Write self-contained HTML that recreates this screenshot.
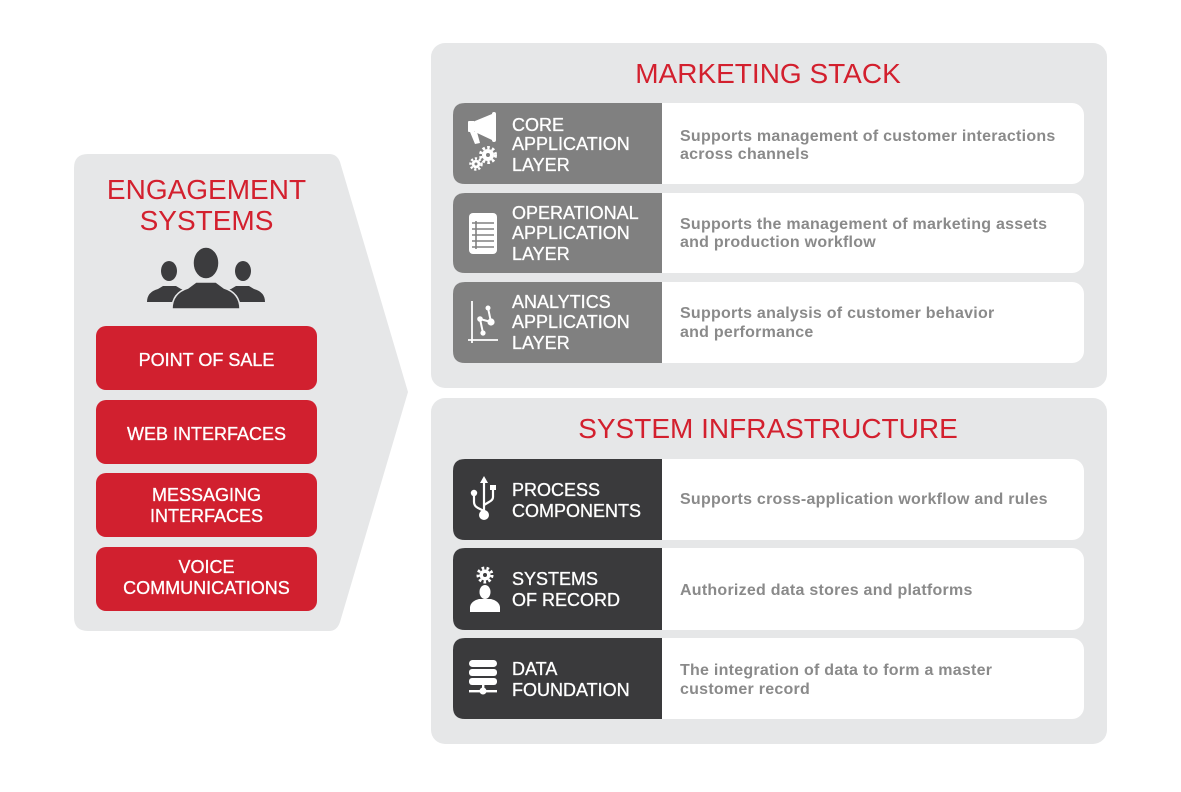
<!DOCTYPE html>
<html>
<head>
<meta charset="utf-8">
<style>
html,body{margin:0;padding:0;background:#ffffff;}
body{width:1181px;height:792px;overflow:hidden;}
svg{display:block;}
</style>
</head>
<body>
<svg width="1181" height="792" viewBox="0 0 1181 792" xmlns="http://www.w3.org/2000/svg" font-family="'Liberation Sans', Arial, sans-serif">
  <rect x="0" y="0" width="1181" height="792" fill="#ffffff"/>

  <!-- LEFT ENGAGEMENT PANEL -->
  <path d="M74,168 Q74,154 88,154 L329,154 Q337,154 340,162 L408,392 L340,622 Q337,631 329,631 L88,631 Q74,631 74,617 Z" fill="#e6e7e8"/>
  <text x="206.5" y="199" font-size="28" fill="#d3202e" text-anchor="middle">ENGAGEMENT</text>
  <text x="206.5" y="230" font-size="28" fill="#d3202e" text-anchor="middle">SYSTEMS</text>

  <!-- people icon -->
  <g fill="#3c3c3e">
    <ellipse cx="169" cy="271" rx="8" ry="10"/>
    <path d="M147,302 Q147,292 158,289 L163,286 L176,286 L181,289 Q192,292 193,302 Z"/>
    <ellipse cx="243" cy="271" rx="8" ry="10"/>
    <path d="M219,302 Q220,292 231,289 L236,286 L249,286 L254,289 Q265,292 265,302 Z"/>
  </g>
  <g fill="#3c3c3e" stroke="#e6e7e8" stroke-width="1.5">
    <path d="M172,309 Q172,293 188,288 L196,282 L216,282 L224,288 Q240,293 240,309 Z"/>
    <ellipse cx="206" cy="263" rx="13" ry="16"/>
  </g>

  <!-- red buttons -->
  <g fill="#d1202f">
    <rect x="96" y="326" width="221" height="64" rx="10"/>
    <rect x="96" y="400" width="221" height="64" rx="10"/>
    <rect x="96" y="473" width="221" height="64" rx="10"/>
    <rect x="96" y="547" width="221" height="64" rx="10"/>
  </g>
  <g fill="#ffffff" font-size="18" text-anchor="middle" stroke="#ffffff" stroke-width="0.3">
    <text x="206.5" y="366">POINT OF SALE</text>
    <text x="206.5" y="440">WEB INTERFACES</text>
    <text x="206.5" y="501">MESSAGING</text>
    <text x="206.5" y="522">INTERFACES</text>
    <text x="206.5" y="573">VOICE</text>
    <text x="206.5" y="594">COMMUNICATIONS</text>
  </g>

  <!-- MARKETING STACK PANEL -->
  <rect x="431" y="43" width="676" height="345" rx="14" fill="#e6e7e8"/>
  <text x="768" y="83" font-size="28" fill="#d3202e" text-anchor="middle">MARKETING STACK</text>

  <!-- rows -->
  <g>
    <rect x="453" y="103" width="631" height="81" rx="12" fill="#ffffff"/>
    <path d="M465,103 L662,103 L662,184 L465,184 Q453,184 453,172 L453,115 Q453,103 465,103 Z" fill="#808080"/>
    <rect x="453" y="193" width="631" height="80" rx="12" fill="#ffffff"/>
    <path d="M465,193 L662,193 L662,273 L465,273 Q453,273 453,261 L453,205 Q453,193 465,193 Z" fill="#808080"/>
    <rect x="453" y="282" width="631" height="81" rx="12" fill="#ffffff"/>
    <path d="M465,282 L662,282 L662,363 L465,363 Q453,363 453,351 L453,294 Q453,282 465,282 Z" fill="#808080"/>
  </g>

  <g fill="#ffffff" font-size="18" stroke="#ffffff" stroke-width="0.3">
    <text x="512" y="131">CORE</text>
    <text x="512" y="150">APPLICATION</text>
    <text x="512" y="171">LAYER</text>
    <text x="512" y="219">OPERATIONAL</text>
    <text x="512" y="239">APPLICATION</text>
    <text x="512" y="260">LAYER</text>
    <text x="512" y="308">ANALYTICS</text>
    <text x="512" y="328">APPLICATION</text>
    <text x="512" y="349">LAYER</text>
  </g>

  <g fill="#8a8a8a" font-size="16" font-weight="bold" letter-spacing="0.25">
    <text x="680" y="141">Supports management of customer interactions</text>
    <text x="680" y="159">across channels</text>
    <text x="680" y="229">Supports the management of marketing assets</text>
    <text x="680" y="247">and production workflow</text>
    <text x="680" y="318">Supports analysis of customer behavior</text>
    <text x="680" y="337">and performance</text>
  </g>

  <!-- megaphone icon -->
  <g fill="#ffffff">
    <rect x="468" y="121" width="7" height="11" rx="1"/>
    <polygon points="475,121 492,114 492,140 475,132"/>
    <rect x="492" y="112" width="4" height="30" rx="2"/>
    <polygon points="470,132 477,132 480,143 475,144"/>
  </g>
  <!-- gears -->
  <g>
    <circle cx="488" cy="155" r="7.5" fill="none" stroke="#ffffff" stroke-width="3" stroke-dasharray="2.6 2.3"/>
    <circle cx="488" cy="155" r="6" fill="#ffffff"/>
    <circle cx="488" cy="155" r="2" fill="#808080"/>
    <circle cx="476" cy="164" r="5.5" fill="none" stroke="#ffffff" stroke-width="2.5" stroke-dasharray="2.2 1.9"/>
    <circle cx="476" cy="164" r="4.3" fill="#ffffff"/>
    <circle cx="476" cy="164" r="1.5" fill="#808080"/>
  </g>

  <!-- document/table icon -->
  <g>
    <rect x="469" y="213" width="28" height="41" rx="4" fill="#ffffff"/>
    <g stroke="#808080" stroke-width="1.6">
      <line x1="472" y1="223" x2="494" y2="223"/>
      <line x1="472" y1="229" x2="494" y2="229"/>
      <line x1="472" y1="235" x2="494" y2="235"/>
      <line x1="472" y1="241" x2="494" y2="241"/>
      <line x1="472" y1="247" x2="494" y2="247"/>
      <line x1="476" y1="221" x2="476" y2="249"/>
    </g>
  </g>

  <!-- analytics icon -->
  <g stroke="#ffffff" stroke-width="1.8" fill="#ffffff">
    <line x1="472" y1="301" x2="472" y2="343"/>
    <line x1="468" y1="340" x2="498" y2="340"/>
    <line x1="488" y1="308" x2="491" y2="322" stroke-width="2"/>
    <line x1="480" y1="319" x2="491" y2="322" stroke-width="2"/>
    <line x1="480" y1="319" x2="483" y2="333" stroke-width="2"/>
    <circle cx="488" cy="308" r="2.5" stroke="none"/>
    <circle cx="480" cy="319" r="2.8" stroke="none"/>
    <circle cx="491" cy="322" r="3.6" stroke="none"/>
    <circle cx="483" cy="333" r="2.6" stroke="none"/>
  </g>

  <!-- SYSTEM INFRASTRUCTURE PANEL -->
  <rect x="431" y="398" width="676" height="346" rx="14" fill="#e6e7e8"/>
  <text x="768" y="438" font-size="28" fill="#d3202e" text-anchor="middle">SYSTEM INFRASTRUCTURE</text>

  <g>
    <rect x="453" y="459" width="631" height="81" rx="12" fill="#ffffff"/>
    <path d="M465,459 L662,459 L662,540 L465,540 Q453,540 453,528 L453,471 Q453,459 465,459 Z" fill="#3a3a3c"/>
    <rect x="453" y="548" width="631" height="82" rx="12" fill="#ffffff"/>
    <path d="M465,548 L662,548 L662,630 L465,630 Q453,630 453,618 L453,560 Q453,548 465,548 Z" fill="#3a3a3c"/>
    <rect x="453" y="638" width="631" height="81" rx="12" fill="#ffffff"/>
    <path d="M465,638 L662,638 L662,719 L465,719 Q453,719 453,707 L453,650 Q453,638 465,638 Z" fill="#3a3a3c"/>
  </g>

  <g fill="#ffffff" font-size="18" stroke="#ffffff" stroke-width="0.3">
    <text x="512" y="496">PROCESS</text>
    <text x="512" y="517">COMPONENTS</text>
    <text x="512" y="585">SYSTEMS</text>
    <text x="512" y="606">OF RECORD</text>
    <text x="512" y="675">DATA</text>
    <text x="512" y="696">FOUNDATION</text>
  </g>

  <g fill="#8a8a8a" font-size="16" font-weight="bold" letter-spacing="0.25">
    <text x="680" y="504">Supports cross-application workflow and rules</text>
    <text x="680" y="595">Authorized data stores and platforms</text>
    <text x="680" y="675">The integration of data to form a master</text>
    <text x="680" y="694">customer record</text>
  </g>

  <!-- USB icon -->
  <g stroke="#ffffff" stroke-width="2.2" fill="none">
    <line x1="484" y1="481" x2="484" y2="513"/>
    <path d="M474,494 L474,502 Q474,506 478,508 L484,511"/>
    <path d="M493,489 L493,497 Q493,500 489,502 L484,505"/>
  </g>
  <g fill="#ffffff">
    <polygon points="484,476 480,483 488,483"/>
    <circle cx="484" cy="515" r="5"/>
    <circle cx="474" cy="493" r="3.2"/>
    <rect x="490" y="485" width="6" height="5"/>
  </g>

  <!-- systems of record icon -->
  <g>
    <circle cx="485" cy="575" r="7" fill="none" stroke="#ffffff" stroke-width="3" stroke-dasharray="2.6 2.3"/>
    <circle cx="485" cy="575" r="5.5" fill="#ffffff"/>
    <circle cx="485" cy="575" r="2" fill="#3a3a3c"/>
    <ellipse cx="485" cy="592" rx="5.5" ry="7" fill="#ffffff"/>
    <path d="M470,612 L470,607 Q471,601 479,599 L491,599 Q499,601 500,607 L500,612 Z" fill="#ffffff"/>
  </g>

  <!-- database icon -->
  <g fill="#ffffff">
    <rect x="469" y="660" width="28" height="7" rx="3.5"/>
    <rect x="469" y="669" width="28" height="7" rx="3"/>
    <rect x="469" y="678" width="28" height="7" rx="3"/>
    <rect x="482" y="685" width="2.4" height="6"/>
    <rect x="469" y="690" width="28" height="2.4"/>
    <circle cx="483" cy="691" r="3.5"/>
  </g>
</svg>
</body>
</html>
